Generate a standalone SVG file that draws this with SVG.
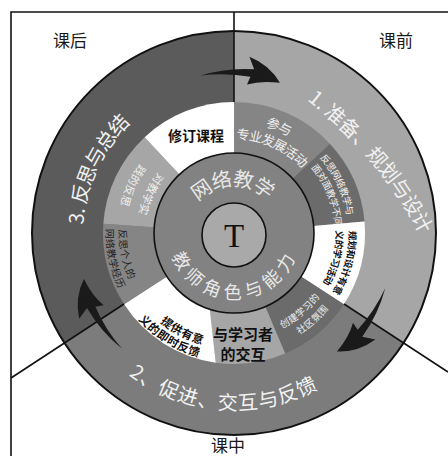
<svg xmlns="http://www.w3.org/2000/svg" width="448" height="456" viewBox="0 0 448 456">
<style>
text{font-family:"Noto Sans CJK SC","Noto Sans",sans-serif}
.c{dominant-baseline:central}
.lbl{font-size:17px;fill:#1a1a1a}
.big{font-size:20px;fill:#f2f2f2}
.w{fill:#f0f0f0}
.k{fill:#111;font-weight:bold}
.dk{fill:#1e1e1e}
.ln{stroke:#111;stroke-width:1.6;fill:none}
.arw{fill:#1a1a1a}
.light{fill:#a6a6a6}
.mid{fill:#858585}
.dark{fill:#6b6b6b}
.white{fill:#ffffff}
</style>
<defs>
<path id="p1" d="M306,88 Q391,153 432,238"/>
<path id="p2" d="M88.51,317 A168,168 0 0 0 366.39,336.43"/>
<path id="p3" d="M95.44,313 A160,160 0 0 1 206.22,75.43"/>
<path id="pa1" d="M193.98,123.06 A117,117 0 0 1 340.89,185.41"/>
<path id="pa2" d="M199.8,139.03 A100,100 0 0 1 326.72,195.54"/>
<path id="pb1" d="M293,130.81 A118,118 0 0 1 350.21,253.49"/>
<path id="pb2" d="M291.19,144.94 A105,105 0 0 1 336.31,256.62"/>
<path id="pc1" d="M337.06,173.5 A119,119 0 0 1 293.5,336.06"/>
<path id="pc2" d="M325.8,180 A106,106 0 0 1 290.17,322.89"/>
<path id="pd1" d="M251.89,334.43 A103,103 0 0 0 330.79,268.23"/>
<path id="pd2" d="M258.33,347.44 A117,117 0 0 0 345.27,269.16"/>
<path id="pf1" d="M137.87,288.5 A111,111 0 0 0 203.4,339.7"/>
<path id="pf2" d="M126.61,295 A124,124 0 0 0 199.82,352.2"/>
<path id="pg1" d="M124.07,229.16 A110,110 0 0 0 149.74,303.71"/>
<path id="pg2" d="M111.07,228.71 A123,123 0 0 0 139.78,312.06"/>
<path id="ph1" d="M202.53,146.55 A92,92 0 0 0 147.55,264.47"/>
<path id="ph2" d="M195.69,127.76 A112,112 0 0 0 128.76,271.31"/>
<path id="pn1" d="M178,233 A56,56 0 0 1 290,233"/>
<path id="pn2" d="M176,233 A58,58 0 0 0 292,233"/>
<path id="arr" d="M-38.95,-156.22 Q-13,-165.3 14.38,-164.37 L9.26,-176.76 Q29.87,-169.39 40.64,-151.65 Q21.57,-153.49 7.8,-148.8 L10.95,-156.62 Q-14.03,-160.39 -38.95,-156.22 Z"/>
</defs>

<g id="frame">
<path class="ln" d="M11,456 L11,12 L448,12"/>
</g>

<g id="phase-1">
<path class="light" d="M234,233 L234,31 A202,202 0 0 1 403.41,343.02 Z"/>
<text class="c big"><textPath href="#p1" startOffset="50%" text-anchor="middle">1. 准备、规划与设计</textPath></text>
</g>
<g id="phase-2">
<path fill="#7c7c7c" d="M234,233 L403.41,343.02 A202,202 0 0 1 64.59,343.02 Z"/>
<text class="c big"><textPath href="#p2" startOffset="50%" text-anchor="middle">2、促进、交互与反馈</textPath></text>
</g>
<g id="phase-3">
<path fill="#5b5b5b" d="M234,233 L64.59,343.02 A202,202 0 0 1 234,31 Z"/>
<text class="c big"><textPath href="#p3" startOffset="50%" text-anchor="middle">3. 反思与总结</textPath></text>
</g>

<g id="seg-participate">
<path class="mid" d="M234,233 L234,102 A131,131 0 0 1 329.81,143.66 Z"/>
<text class="c w" font-size="13"><textPath href="#pa1" startOffset="50%" text-anchor="middle">参与</textPath></text>
<text class="c w" font-size="13"><textPath href="#pa2" startOffset="50%" text-anchor="middle">专业发展活动</textPath></text>
</g>
<g id="seg-reflect-diff">
<path class="dark" d="M234,233 L329.81,143.66 A131,131 0 0 1 364.5,221.58 Z"/>
<text class="c w" font-size="9.5"><textPath href="#pb1" startOffset="50%" text-anchor="middle">反思网络教学与</textPath></text>
<text class="c w" font-size="9.5"><textPath href="#pb2" startOffset="50%" text-anchor="middle">面对面教学不同</textPath></text>
</g>
<g id="seg-design">
<path class="white" d="M234,233 L364.5,221.58 A131,131 0 0 1 343.87,304.35 Z"/>
<text class="c k" font-size="9.5"><textPath href="#pc1" startOffset="50%" text-anchor="middle">规划和设计有意</textPath></text>
<text class="c k" font-size="9.5"><textPath href="#pc2" startOffset="50%" text-anchor="middle">义的学习活动</textPath></text>
</g>
<g id="seg-community">
<path class="dark" d="M234,233 L343.87,304.35 A131,131 0 0 1 285.19,353.59 Z"/>
<text class="c w" font-size="9.5"><textPath href="#pd1" startOffset="50%" text-anchor="middle">创建学习的</textPath></text>
<text class="c w" font-size="9.5"><textPath href="#pd2" startOffset="50%" text-anchor="middle">社区氛围</textPath></text>
</g>
<g id="seg-interact">
<path class="light" d="M234,233 L285.19,353.59 A131,131 0 0 1 215.77,362.73 L201.3,233 Z"/>
<text class="k" font-size="15" x="243" y="340" text-anchor="middle">与学习者</text>
<text class="k" font-size="15" x="243" y="360" text-anchor="middle">的交互</text>
</g>
<g id="seg-feedback">
<path class="white" d="M201.3,233 L215.77,362.73 A131,131 0 0 1 124.13,304.35 L234,233 Z"/>
<text class="c k" font-size="11.5"><textPath href="#pf1" startOffset="100%" text-anchor="end">提供有意</textPath></text>
<text class="c k" font-size="11.5"><textPath href="#pf2" startOffset="100%" text-anchor="end">义的即时反馈</textPath></text>
</g>
<g id="seg-reflect-personal">
<path class="mid" d="M234,233 L124.13,304.35 A131,131 0 0 1 103.32,223.86 Z"/>
<text class="c dk" font-size="10"><textPath href="#pg1">反思个人的</textPath></text>
<text class="c dk" font-size="10"><textPath href="#pg2">网络教学经历</textPath></text>
</g>
<g id="seg-reflect-practice">
<path class="light" d="M234,233 L103.32,223.86 A131,131 0 0 1 144.66,137.19 Z"/>
<text class="c w" font-size="11"><textPath href="#ph1" startOffset="50%" text-anchor="middle">对教学实</textPath></text>
<text class="c w" font-size="11"><textPath href="#ph2" startOffset="50%" text-anchor="middle">践的反思</textPath></text>
</g>
<g id="seg-revise">
<path class="white" d="M234,233 L144.66,137.19 A131,131 0 0 1 234,102 Z"/>
<text class="k" font-size="14" x="196" y="141" text-anchor="middle">修订课程</text>
</g>

<g id="core">
<circle cx="234" cy="233" r="80" fill="#828282" stroke="#111" stroke-width="1.6"/>
<text class="c" font-size="20" letter-spacing="3" fill="#e8e8e8"><textPath href="#pn1" startOffset="50%" text-anchor="middle">网络教学</textPath></text>
<text class="c" font-size="18" letter-spacing="2.5" fill="#e8e8e8"><textPath href="#pn2" startOffset="50%" text-anchor="middle">教师角色与能力</textPath></text>
</g>
<g id="teacher">
<circle cx="234" cy="235" r="32" fill="#a9a9a9" stroke="#111" stroke-width="1.6"/>
<text x="234" y="247" style="font-family:'Liberation Serif',serif" font-size="33" fill="#111" text-anchor="middle">T</text>
</g>

<g id="outline">
<circle cx="234" cy="233" r="202" fill="none" stroke="#111" stroke-width="2"/>
</g>

<g id="connectors">
<path class="ln" d="M234,12 L234,102"/>
<path class="ln" d="M344,304 L448,372"/>
<path class="ln" d="M124,304 L11,378"/>
<use href="#arr" class="arw" transform="translate(234,233) rotate(2)"/>
<use href="#arr" class="arw" transform="translate(234,233) rotate(124)"/>
<use href="#arr" class="arw" transform="translate(234,233) rotate(238)"/>
</g>

<g id="labels">
<text class="lbl" x="70" y="47" text-anchor="middle">课后</text>
<text class="lbl" x="396" y="47" text-anchor="middle">课前</text>
<text class="lbl" x="228" y="452" text-anchor="middle">课中</text>
</g>
</svg>
